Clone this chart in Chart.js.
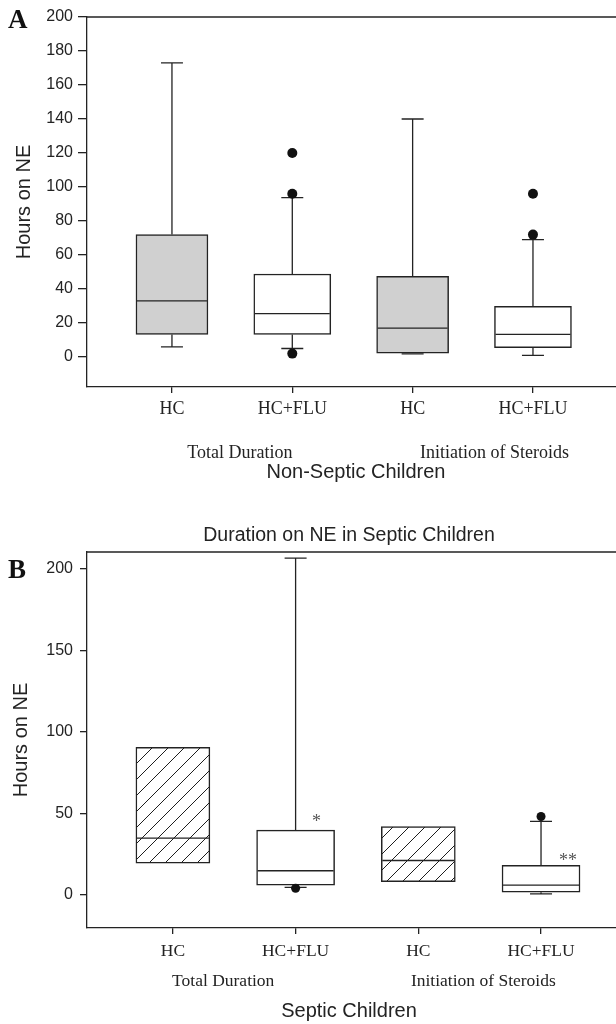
<!DOCTYPE html>
<html>
<head>
<meta charset="utf-8">
<title>Hours on NE</title>
<script src="https://cdn.jsdelivr.net/npm/chart.js@4.4.1/dist/chart.umd.min.js"></script>
<style>
  html, body { margin: 0; padding: 0; background: #fff; }
  #wrap { position: relative; width: 616px; height: 1024px; }
  .panel { position: absolute; left: 0; width: 616px; }
  #panelA { top: 0; height: 500px; }
  #panelB { top: 500px; height: 524px; }
</style>
</head>
<body>
<div id="wrap">
  <div class="panel" id="panelA"><canvas id="chartA" width="616" height="500"></canvas></div>
  <div class="panel" id="panelB"><canvas id="chartB" width="616" height="524"></canvas></div>
</div>
<script>
// Categories and groups on the x axis
const categories = ['HC', 'HC+FLU', 'HC', 'HC+FLU'];
const groups = ['Total Duration', 'Initiation of Steroids'];

// Panel A - non-septic children (hours on NE)
const nsMin = [6, 5, 1.8, 1];
const nsQ1 = [13.3, 13.3, 2.2, 5.5];
const nsMedian = [33, 25.5, 17, 13.3];
const nsQ3 = [72, 48.8, 47.5, 29.8];
const nsMax = [173, 93.7, 140, 69];
const nsOutliers = [[], [120, 96, 2], [], [96, 72]];
const nsTicks = [0, 20, 40, 60, 80, 100, 120, 140, 160, 180, 200];

// Panel B - septic children (hours on NE)
const sMin = [null, 4.5, null, 0.5];
const sQ1 = [19.4, 5.9, 8, 1.6];
const sMedian = [34.7, 14.7, 21, 5.9];
const sQ3 = [90.4, 39.6, 41.8, 18];
const sMax = [null, 206.5, null, 45];
const sOutliers = [[], [4], [], [48]];
const sTicks = [0, 50, 100, 150, 200];
const sMarks = ['*', '**'];
const sMarkX = [2.17, 4.22];
const sMarkY = [47.5, 24];

const SANS = '"Liberation Sans", Arial, sans-serif';
const SERIF = '"Liberation Serif", "Times New Roman", serif';
const INK = '#232323';

document.addEventListener('DOMContentLoaded', function() {
    initializeCharts();
});

// Diagonal hatch used for the HC boxes of panel B
function hatchPattern() {
    const c = document.createElement('canvas');
    c.width = 16;
    c.height = 16;
    const g = c.getContext('2d');
    g.fillStyle = '#fff';
    g.fillRect(0, 0, 16, 16);
    g.strokeStyle = '#1e1e1e';
    g.lineWidth = 1;
    g.beginPath();
    g.moveTo(-2, 18); g.lineTo(18, -2);
    g.moveTo(-2, 2); g.lineTo(2, -2);
    g.moveTo(14, 18); g.lineTo(18, 14);
    g.stroke();
    return g.createPattern(c, 'repeat');
}

// Whiskers, medians, frame line and texts
function boxPlugin(spec) {
    return {
        id: 'boxParts',
        beforeDatasetsDraw(chart) {
            const { ctx, scales: { x, y } } = chart;
            ctx.save();
            ctx.strokeStyle = INK;
            ctx.lineWidth = 1.3;
            spec.q1.forEach((q, i) => {
                const cx = x.getPixelForValue(i + 1);
                const half = spec.cap / 2;
                [[spec.q3[i], spec.max[i]], [q, spec.min[i]]].forEach(([from, to]) => {
                    if (to === null) return;
                    const y0 = y.getPixelForValue(from);
                    const y1 = y.getPixelForValue(to);
                    ctx.beginPath();
                    ctx.moveTo(cx, y0); ctx.lineTo(cx, y1);
                    ctx.moveTo(cx - half, y1); ctx.lineTo(cx + half, y1);
                    ctx.stroke();
                });
            });
            ctx.restore();
        },
        afterDatasetsDraw(chart) {
            const { ctx, chartArea, scales: { x, y } } = chart;
            ctx.save();
            ctx.strokeStyle = INK;
            ctx.lineWidth = 1.3;
            ctx.beginPath();
            spec.median.forEach((m, i) => {
                const cx = x.getPixelForValue(i + 1);
                const w = spec.widths[i % 2];
                const py = y.getPixelForValue(m);
                ctx.moveTo(cx - w / 2 + 1, py); ctx.lineTo(cx + w / 2 - 1, py);
            });
            // top frame line
            ctx.moveTo(chartArea.left, chartArea.top);
            ctx.lineTo(chart.width, chartArea.top);
            ctx.stroke();

            ctx.fillStyle = INK;
            ctx.textAlign = 'center';
            ctx.textBaseline = 'alphabetic';
            ctx.font = spec.labelSize + 'px ' + SERIF;
            groups.forEach((g, k) => {
                ctx.fillText(g, x.getPixelForValue(spec.groupAt[k]), spec.groupY);
            });
            ctx.font = '20px ' + SANS;
            ctx.fillText(spec.xTitle, spec.xTitleX, spec.xTitleY);
            if (spec.title) {
                ctx.font = '19.5px ' + SANS;
                ctx.fillText(spec.title, spec.titleX, spec.titleY);
            }
            if (spec.marks) {
                ctx.fillStyle = '#555';
                ctx.font = '18px ' + SERIF;
                spec.marks.forEach((t, k) => {
                    ctx.fillText(t, x.getPixelForValue(spec.markX[k]), y.getPixelForValue(spec.markY[k]) + 10);
                });
            }
            ctx.fillStyle = '#111';
            ctx.textAlign = 'left';
            ctx.font = 'bold 27px ' + SERIF;
            ctx.fillText(spec.letter, 8, spec.letterY);
            ctx.restore();
        }
    };
}

function makeChart(canvasId, spec) {
    const ctx = document.getElementById(canvasId).getContext('2d');
    const height = ctx.canvas.height;
    const boxes = (idx) => idx.map(i => ({ x: i + 1, y: [spec.q1[i], spec.q3[i]] }));
    const points = [];
    spec.outliers.forEach((list, i) => list.forEach(v => points.push({ x: i + 1, y: v })));

    return new Chart(ctx, {
        type: 'bar',
        data: {
            datasets: [
                {
                    type: 'scatter',
                    data: points,
                    pointRadius: spec.dot,
                    pointBackgroundColor: '#111',
                    pointBorderWidth: 0,
                    order: 0
                },
                {
                    data: boxes([0, 2]),
                    backgroundColor: spec.hcFill,
                    borderColor: INK,
                    borderWidth: 1.5,
                    borderSkipped: false,
                    barThickness: spec.widths[0],
                    grouped: false,
                    order: 1
                },
                {
                    data: boxes([1, 3]),
                    backgroundColor: '#fff',
                    borderColor: INK,
                    borderWidth: 1.5,
                    borderSkipped: false,
                    barThickness: spec.widths[1],
                    grouped: false,
                    order: 1
                }
            ]
        },
        options: {
            responsive: false,
            animation: false,
            devicePixelRatio: 1,
            layout: { autoPadding: false, padding: { top: spec.top, right: 0, bottom: 0, left: 0 } },
            plugins: { legend: { display: false }, tooltip: { enabled: false } },
            scales: {
                x: {
                    type: 'linear',
                    offset: false,
                    min: spec.xMin,
                    max: spec.xMax,
                    afterBuildTicks: s => { s.ticks = categories.map((c, i) => ({ value: i + 1 })); },
                    afterFit: s => {
                        s.height = height - spec.bottom;
                        s.paddingLeft = 0;
                        s.paddingRight = 0;
                    },
                    ticks: {
                        autoSkip: false,
                        maxRotation: 0,
                        padding: spec.xPad,
                        color: INK,
                        font: { family: SERIF, size: spec.labelSize },
                        callback: (v, i) => categories[i]
                    },
                    grid: { offset: false, drawOnChartArea: false, tickLength: 6, color: INK, lineWidth: 1.3 },
                    border: { color: INK, width: 1.3 }
                },
                y: {
                    min: spec.yMin,
                    max: spec.yMax,
                    afterBuildTicks: s => { s.ticks = spec.ticks.map(v => ({ value: v })); },
                    afterFit: s => { s.width = 87; },
                    ticks: {
                        autoSkip: false,
                        padding: spec.yPad,
                        color: INK,
                        font: { family: SANS, size: 16 },
                        callback: v => v
                    },
                    grid: { drawOnChartArea: false, tickLength: spec.yTick, color: INK, lineWidth: 1.3 },
                    border: { color: INK, width: 1.3 },
                    title: {
                        display: true,
                        text: 'Hours on NE',
                        color: INK,
                        font: { family: SANS, size: 20 },
                        padding: { top: spec.yTitlePad, bottom: 0 }
                    }
                }
            }
        },
        plugins: [boxPlugin(spec)]
    });
}

function initializeCharts() {
    // Panel A
    makeChart('chartA', {
        min: nsMin, q1: nsQ1, median: nsMedian, q3: nsQ3, max: nsMax, outliers: nsOutliers,
        ticks: nsTicks, yMin: -17.65, yMax: 200, xMin: 0.294, xMax: 4.69,
        top: 17, bottom: 387, widths: [72, 77], cap: 22, dot: 5,
        hcFill: '#d0d0d0', labelSize: 18, xPad: 5, yPad: 5, yTick: 9, yTitlePad: 12,
        groupAt: [1.565, 3.68], groupY: 458,
        xTitle: 'Non-Septic Children', xTitleX: 356, xTitleY: 478,
        letter: 'A', letterY: 28
    });

    // Panel B
    makeChart('chartB', {
        min: sMin, q1: sQ1, median: sMedian, q3: sQ3, max: sMax, outliers: sOutliers,
        ticks: sTicks, yMin: -20.4, yMax: 210.2, xMin: 0.3, xMax: 4.611,
        top: 52, bottom: 428, widths: [74, 78], cap: 22, dot: 4.5,
        hcFill: hatchPattern(), labelSize: 17.5, xPad: 7, yPad: 7, yTick: 7, yTitlePad: 9.5,
        groupAt: [1.41, 3.53], groupY: 486,
        xTitle: 'Septic Children', xTitleX: 349, xTitleY: 517,
        title: 'Duration on NE in Septic Children', titleX: 349, titleY: 41,
        marks: sMarks, markX: sMarkX, markY: sMarkY,
        letter: 'B', letterY: 78
    });
}
</script>
</body>
</html>
